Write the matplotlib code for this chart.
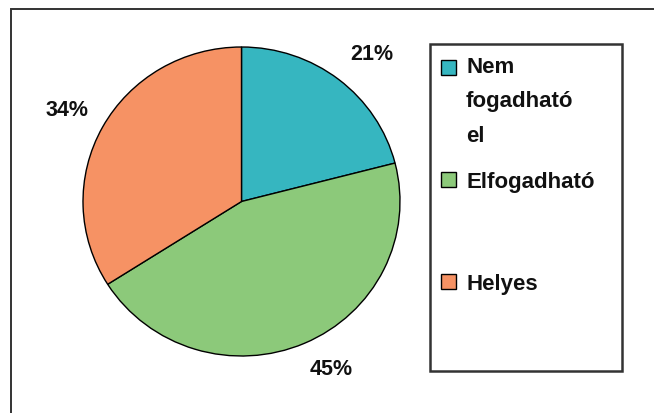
import matplotlib
matplotlib.use("Agg")
import matplotlib.pyplot as plt
from matplotlib.patches import Rectangle

labels = ["Nem\nfogadható\nel", "Elfogadható", "Helyes"]
shares = [21, 45, 34]
colors = ["#36b6c0", "#8cc97a", "#f69264"]

# percent label positions, figure pixels from top-left
pct_pos = [(372, 54.5), (331, 369.5), (67, 110.5)]
# legend rows: (square top, last-line baseline)
legend_rows = [(61, 142), (173, 188), (275, 290)]

W, H = 654, 414
fig = plt.figure(figsize=(W / 100, H / 100), dpi=100)
plt.rcParams["font.family"] = ["Liberation Sans", "DejaVu Sans"]


def fx(px):
    return px / W


def fy(py):
    return 1 - py / H


# outer frame, runs off the right and bottom edges
fig.patches.append(Rectangle((fx(11), fy(440)), fx(700), 430 / H, transform=fig.transFigure,
                             fill=False, edgecolor="#333333", linewidth=1.4))

# pie area
cx, cy, rx, ry = 241.5, 202.5, 158.5, 154.5
ax = fig.add_axes([fx(cx - rx), fy(cy + ry), 2 * rx / W, 2 * ry / H])
wedges, _ = ax.pie(shares, colors=colors, startangle=90, counterclock=False,
                   wedgeprops=dict(edgecolor="black", linewidth=1.0))
for w in wedges:
    w.set_clip_on(False)
ax.set_xlim(-1, 1)
ax.set_ylim(-1, 1)
ax.set_aspect("auto")
ax.axis("off")

for s, (px, py) in zip(shares, pct_pos):
    fig.text(fx(px), fy(py), f"{s}%", ha="center", va="center",
             fontsize=15.5, fontweight="bold", color="#111111")

# legend box
fig.patches.append(Rectangle((fx(430), fy(372)), fx(622 - 430), (372 - 45) / H,
                             transform=fig.transFigure, fill=False,
                             edgecolor="#333333", linewidth=1.8))
for lab, c, (sq, bl) in zip(labels, colors, legend_rows):
    fig.patches.append(Rectangle((fx(441), fy(sq + 15)), fx(15), 15 / H,
                                 transform=fig.transFigure, facecolor=c,
                                 edgecolor="black", linewidth=1.0))
    fig.text(fx(466), fy(bl), lab, ha="left", va="baseline", fontsize=16,
             fontweight="bold", color="#111111", linespacing=1.85)

fig.savefig("out.png", dpi=100, facecolor="white")
